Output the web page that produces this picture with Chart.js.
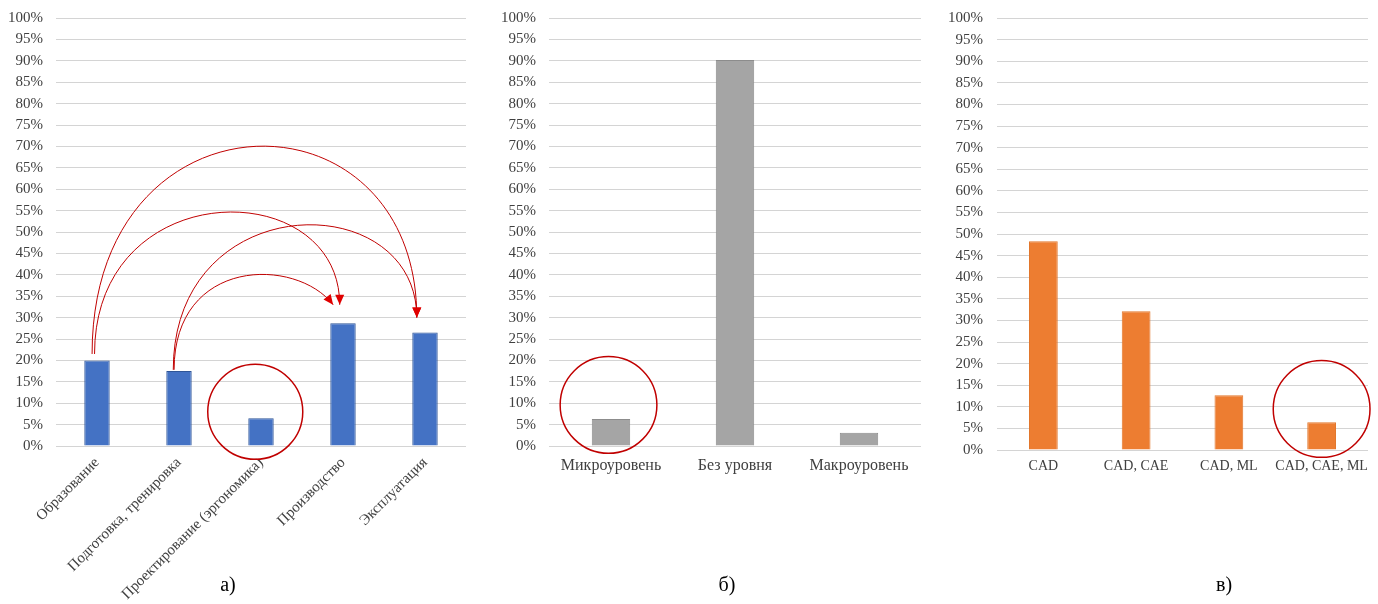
<!DOCTYPE html>
<html>
<head>
<meta charset="utf-8">
<script src="https://cdn.jsdelivr.net/npm/chart.js@4"></script>
<style>
  body { margin: 0; background: #fff; }
  canvas { position: absolute; top: 0; }
  .cap { position: absolute; top: 573px; width: 60px; margin-left: -30px; text-align: center;
         font: 20px "Liberation Serif", serif; color: #000; }
</style>
</head>
<body>
<canvas id="chartA" width="470" height="604" style="left:0"></canvas>
<canvas id="chartB" width="450" height="604" style="left:480px"></canvas>
<canvas id="chartC" width="458" height="604" style="left:920px"></canvas>
<div class="cap" style="left:228px">а)</div>
<div class="cap" style="left:727px">б)</div>
<div class="cap" style="left:1224px">в)</div>
<script>
// chart a
const catsA = ["Образование", "Подготовка, тренировка", "Проектирование (эргономика)", "Производство", "Эксплуатация"];
const valsA = [20, 17.5, 6.5, 28.7, 26.5];
// chart b
const catsB = ["Микроуровень", "Без уровня", "Макроуровень"];
const valsB = [6.3, 90.2, 3.1];
// chart c
const catsC = ["CAD", "CAD, CAE", "CAD, ML", "CAD, CAE, ML"];
const valsC = [48.3, 32.1, 12.7, 6.4];

// red arcs on chart a: start/end as [category, value], peak value
const arcsA = [
    { from: [-0.06, 21.5], to: [3.9, 30], peak: 70 },
    { from: [-0.03, 21.5], to: [2.96, 33], peak: 54.5 },
    { from: [0.93, 17.8], to: [3.9, 30], peak: 51.5 },
    { from: [0.94, 17.8], to: [2.88, 33], peak: 39.5, lean: 0.45 }
];
// red circles: [category, value, radius in %]
const circlesA = [[1.93, 8, 11.1]];
const circlesB = [[-0.02, 9.6, 11.3]];
const circlesC = [[3, 9.5, 11.2]];

const RED = "#c00000";

const marks = {
    id: "marks",
    afterDatasetsDraw(chart, args, opts) {
        const { ctx } = chart;
        const x = chart.scales.x, y = chart.scales.y;
        ctx.save();
        ctx.strokeStyle = RED;
        ctx.fillStyle = "#e00000";
        ctx.lineWidth = 1;
        (opts.arcs || []).forEach(a => {
            const x0 = x.getPixelForValue(a.from[0]), y0 = y.getPixelForValue(a.from[1]);
            const x3 = x.getPixelForValue(a.to[0]), y3 = y.getPixelForValue(a.to[1]);
            const yp = y.getPixelForValue(a.peak);
            const yc = (8 * yp - y0 - y3) / 6;
            const lean = (a.lean || 0) * (x.getPixelForValue(1) - x.getPixelForValue(0));
            const x2 = x3 - lean;
            ctx.beginPath();
            ctx.moveTo(x0, y0);
            ctx.bezierCurveTo(x0, yc, x2, yc, x3, y3);
            ctx.stroke();
            // arrow head along end tangent
            const ang = Math.atan2(y3 - yc, x3 - x2);
            const len = 10, w = 4.5;
            ctx.beginPath();
            ctx.moveTo(x3, y3);
            ctx.lineTo(x3 - len * Math.cos(ang) + w * Math.sin(ang), y3 - len * Math.sin(ang) - w * Math.cos(ang));
            ctx.lineTo(x3 - len * Math.cos(ang) - w * Math.sin(ang), y3 - len * Math.sin(ang) + w * Math.cos(ang));
            ctx.closePath();
            ctx.fill();
        });
        ctx.lineWidth = 1.5;
        (opts.circles || []).forEach(c => {
            const cx = x.getPixelForValue(c[0]), cy = y.getPixelForValue(c[1]);
            const r = y.getPixelForValue(0) - y.getPixelForValue(c[2]);
            ctx.beginPath();
            ctx.arc(cx, cy, r, 0, Math.PI * 2);
            ctx.stroke();
        });
        ctx.restore();
    }
};

function makeChart(id, labels, values, fill, border, s) {
    return new Chart(document.getElementById(id), {
        type: "bar",
        data: {
            labels: labels,
            datasets: [{
                data: values,
                backgroundColor: fill,
                borderColor: border,
                borderWidth: 1,
                borderSkipped: "bottom",
                barPercentage: 0.31,
                categoryPercentage: 1
            }]
        },
        options: {
            responsive: false,
            animation: false,
            layout: { padding: { left: 0, right: s.padRight, top: 18, bottom: 0 } },
            plugins: {
                legend: { display: false },
                tooltip: { enabled: false },
                marks: { arcs: s.arcs, circles: s.circles }
            },
            scales: {
                x: {
                    grid: { display: false, drawTicks: false },
                    border: { display: false },
                    ticks: {
                        autoSkip: false,
                        minRotation: s.rot, maxRotation: s.rot,
                        padding: s.xPad,
                        color: "#404040",
                        font: { family: "Liberation Serif", size: s.xFont }
                    },
                    afterFit: sc => { sc.height = s.xHeight; }
                },
                y: {
                    min: 0, max: 100,
                    grid: { color: "#d4d4d4", lineWidth: 1, drawTicks: false },
                    border: { display: false },
                    ticks: {
                        stepSize: 5,
                        padding: s.yPad,
                        color: "#404040",
                        font: { family: "Liberation Serif", size: 15 },
                        callback: v => v + "%"
                    },
                    afterFit: sc => {
                        sc.width = s.yWidth;
                        // keep the top label overflow only, not the tick padding
                        sc.paddingTop = 9;
                        sc.paddingBottom = 9;
                    }
                }
            }
        },
        plugins: [marks]
    });
}

makeChart("chartA", catsA, valsA, "#4472c4", "#2f5597",
    { padRight: 4, yWidth: 56, yPad: 13, xHeight: 158, xPad: 8, xFont: 15, rot: 45, arcs: arcsA, circles: circlesA });
makeChart("chartB", catsB, valsB, "#a5a5a5", "#8c8c8c",
    { padRight: 9, yWidth: 69, yPad: 13, xHeight: 158, xPad: 10, xFont: 16, rot: 0, circles: circlesB });
makeChart("chartC", catsC, valsC, "#ed7d31", "#e2772c",
    { padRight: 10, yWidth: 77, yPad: 14, xHeight: 154, xPad: 8, xFont: 14, rot: 0, circles: circlesC });
</script>
</body>
</html>
